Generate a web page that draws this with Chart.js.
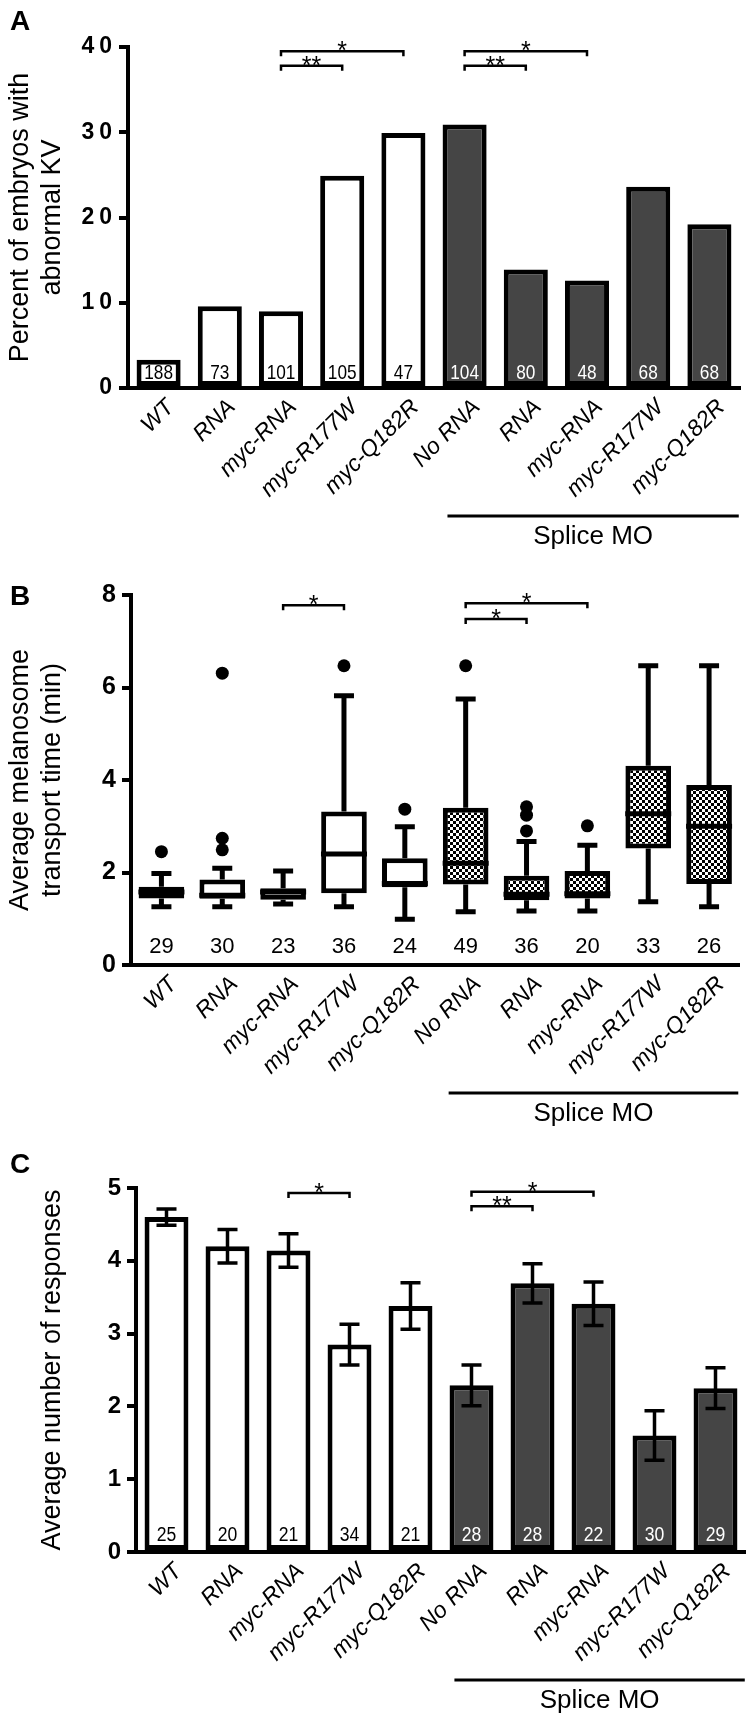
<!DOCTYPE html>
<html>
<head>
<meta charset="utf-8">
<script src="https://cdn.jsdelivr.net/npm/chart.js@4.4.1/dist/chart.umd.min.js"></script>
<style>
  html, body { margin: 0; padding: 0; background: #fff; }
  body { width: 746px; height: 1721px; position: relative; overflow: hidden; }
  canvas { position: absolute; left: 0; }
</style>
</head>
<body>
<canvas id="chartA" width="746" height="560" style="top:0"></canvas>
<canvas id="chartB" width="746" height="570" style="top:560px"></canvas>
<canvas id="chartC" width="746" height="591" style="top:1130px"></canvas>
<script>
// groups shared by all three panels
const categories = ['WT', 'RNA', 'myc-RNA', 'myc-R177W', 'myc-Q182R', 'No RNA', 'RNA', 'myc-RNA', 'myc-R177W', 'myc-Q182R'];
const spliceMO = [false, false, false, false, false, true, true, true, true, true];

// A: percent of embryos with abnormal KV
const abnormalKV = [3.3, 9.6, 9.0, 24.9, 29.9, 30.9, 13.9, 12.6, 23.6, 19.2];
const embryoCounts = [188, 73, 101, 105, 47, 104, 80, 48, 68, 68];
const sigA = [[2, 3, 37.8, '**'], [2, 4, 39.5, '*'], [5, 6, 37.8, '**'], [5, 7, 39.5, '*']];

// B: melanosome transport time box plots (min)
const transportMin = [1.26, 1.26, 1.32, 1.26, 0.99, 1.15, 1.17, 1.17, 1.37, 1.26];
const transportQ1 = [1.44, 1.43, 1.41, 1.55, 1.68, 1.74, 1.40, 1.44, 2.52, 1.75];
const transportMedian = [1.58, 1.51, 1.58, 2.40, 1.76, 2.20, 1.53, 1.54, 3.27, 3.00];
const transportQ3 = [1.69, 1.85, 1.66, 3.32, 2.31, 3.40, 1.93, 2.03, 4.31, 3.89];
const transportMax = [1.98, 2.09, 2.03, 5.82, 2.99, 5.75, 2.67, 2.59, 6.47, 6.47];
const outliers1 = [2.45, 2.49, null, 6.47, 3.37, 6.47, 2.90, 3.01, null, null];
const outliers2 = [null, 2.74, null, null, null, null, 3.24, null, null, null];
const outliers3 = [null, 6.31, null, null, null, null, 3.42, null, null, null];
const melanosomeCounts = [29, 30, 23, 36, 24, 49, 36, 20, 33, 26];
const sigB = [[2, 3, 7.78, '*'], [5, 7, 7.82, '*'], [5, 6, 7.48, '*']];

// C: average number of responses, mean and SEM
const responses = [4.60, 4.20, 4.14, 2.85, 3.38, 2.29, 3.69, 3.41, 1.60, 2.25];
const responsesSem = [0.11, 0.23, 0.23, 0.28, 0.32, 0.28, 0.27, 0.30, 0.34, 0.28];
const larvaCounts = [25, 20, 21, 34, 21, 28, 28, 22, 30, 29];
const sigC = [[2, 3, 4.93, '*'], [5, 7, 4.95, '*'], [5, 6, 4.75, '**']];

const TXT = "'Liberation Sans', Arial, Helvetica, sans-serif";
const NARROW = "'Liberation Sans Narrow', 'Arial Narrow', 'Liberation Sans', sans-serif";
const DARK = '#454545';

function checker(ctx) {
  const tile = document.createElement('canvas');
  tile.width = 6; tile.height = 6;
  const g = tile.getContext('2d');
  g.fillStyle = '#fff'; g.fillRect(0, 0, 6, 6);
  g.fillStyle = '#000'; g.fillRect(0, 0, 3, 3); g.fillRect(3, 3, 3, 3);
  return ctx.createPattern(tile, 'repeat');
}

// panel A's y labels are drawn letter-spaced ("4 0")
function spacedTicks(px) {
  return {
    id: 'spacedTicks',
    beforeDraw(chart) {
      const ys = chart.scales.y;
      if (ys._spaced) return;
      ys._spaced = true;
      const orig = ys.drawLabels.bind(ys);
      ys.drawLabels = function (area) {
        chart.ctx.save();
        chart.ctx.letterSpacing = px + 'px';
        orig(area);
        chart.ctx.restore();
      };
    }
  };
}

// letter, n counts, significance brackets, "Splice MO" line
function decor(o) {
  return {
    id: 'decor' + o.letter,
    afterDraw(chart) {
      const { ctx, chartArea } = chart;
      const x = chart.scales.x, y = chart.scales.y;
      const sp = x.getPixelForValue(1) - x.getPixelForValue(0);
      ctx.save();
      ctx.fillStyle = '#000';
      ctx.font = 'bold 28px ' + TXT;
      ctx.textAlign = 'left';
      ctx.textBaseline = 'alphabetic';
      ctx.fillText(o.letter, 10, o.letterY);

      // n per group
      ctx.textAlign = 'center';
      ctx.textBaseline = 'middle';
      ctx.font = o.countFont;
      o.counts.forEach((n, i) => {
        ctx.save();
        ctx.translate(x.getPixelForValue(i), chartArea.bottom - o.countOffset);
        ctx.scale(o.countScale, 1);
        ctx.fillStyle = (o.countWhite && spliceMO[i]) ? '#fff' : '#000';
        ctx.fillText(String(n), 0, 0);
        ctx.restore();
      });

      // significance brackets
      ctx.strokeStyle = '#000';
      ctx.lineWidth = 2.5;
      ctx.font = '25px ' + TXT;
      ctx.textBaseline = 'alphabetic';
      o.sig.forEach(([a, b, v, mark]) => {
        const x1 = x.getPixelForValue(a), x2 = x.getPixelForValue(b), yy = y.getPixelForValue(v);
        ctx.beginPath();
        ctx.moveTo(x1, yy + 5); ctx.lineTo(x1, yy); ctx.lineTo(x2, yy); ctx.lineTo(x2, yy + 5);
        ctx.stroke();
        ctx.fillStyle = '#000';
        ctx.fillText(mark, (x1 + x2) / 2, yy + 8);
      });

      // Splice MO group line
      const lx1 = x.getPixelForValue(5) - 0.28 * sp;
      const lx2 = x.getPixelForValue(9) + 0.48 * sp;
      const ly = chartArea.bottom + 128;
      ctx.lineWidth = 3;
      ctx.beginPath(); ctx.moveTo(lx1, ly); ctx.lineTo(lx2, ly); ctx.stroke();
      ctx.font = '26px ' + TXT;
      ctx.textAlign = 'center';
      ctx.fillText('Splice MO', (lx1 + lx2) / 2, chartArea.bottom + 156);
      ctx.restore();
    }
  };
}

function scalesFor(o) {
  return {
    x: {
      type: 'category',
      grid: { display: false },
      border: { display: true, color: '#000', width: 4 },
      ticks: {
        color: '#000', autoSkip: false, minRotation: 45, maxRotation: 45, padding: -2, labelOffset: 12,
        font: { family: TXT, size: 23, style: 'italic' }
      },
      afterFit: s => { s.height = o.xHeight; }
    },
    y: {
      min: 0, max: o.max,
      grid: { display: true, drawOnChartArea: false, drawTicks: true, tickLength: 9, color: '#000', lineWidth: 4 },
      border: { display: true, color: '#000', width: 4 },
      ticks: { stepSize: o.step, color: '#000', padding: o.tickPad, font: { family: NARROW, size: o.tickSize, weight: 'bold' } },
      title: {
        display: true, text: o.title, color: '#000',
        font: { family: TXT, size: 27, lineHeight: 1.2 }, padding: { top: o.titlePad, bottom: 0 }
      },
      afterFit: s => { s.width = o.yWidth; }
    }
  };
}

const baseOptions = {
  responsive: false,
  animation: false,
  devicePixelRatio: 1,
  plugins: { legend: { display: false }, tooltip: { enabled: false } }
};

// ---------- A ----------
new Chart(document.getElementById('chartA'), {
  type: 'bar',
  data: {
    labels: categories,
    datasets: [{
      data: abnormalKV,
      backgroundColor: spliceMO.map(m => m ? DARK : '#fff'),
      borderColor: '#000', borderWidth: 5, borderSkipped: false,
      barPercentage: 0.72, categoryPercentage: 1
    }]
  },
  options: Object.assign({}, baseOptions, {
    layout: { padding: { top: 47, right: 6, left: 0, bottom: 0 } },
    scales: scalesFor({ max: 40, step: 10, tickSize: 23, tickPad: 2, xHeight: 172, yWidth: 128, titlePad: 4,
      title: ['Percent of embryos with', 'abnormal KV'] })
  }),
  plugins: [spacedTicks(5), decor({ letter: 'A', letterY: 30, counts: embryoCounts, countOffset: 15,
    countFont: '21px ' + TXT, countScale: 0.82, countWhite: true, sig: sigA })]
});

// ---------- B ----------
const ctxB = document.getElementById('chartB').getContext('2d');
const checks = checker(ctxB);
const whiskers = {
  id: 'whiskers',
  afterDatasetsDraw(chart) {
    const { ctx } = chart;
    const x = chart.scales.x, y = chart.scales.y;
    ctx.save();
    ctx.strokeStyle = '#000';
    categories.forEach((c, i) => {
      const px = x.getPixelForValue(i);
      ctx.lineWidth = 5;
      ctx.beginPath();
      ctx.moveTo(px, y.getPixelForValue(transportQ3[i])); ctx.lineTo(px, y.getPixelForValue(transportMax[i]));
      ctx.moveTo(px, y.getPixelForValue(transportQ1[i])); ctx.lineTo(px, y.getPixelForValue(transportMin[i]));
      ctx.moveTo(px - 10, y.getPixelForValue(transportMax[i])); ctx.lineTo(px + 10, y.getPixelForValue(transportMax[i]));
      ctx.moveTo(px - 10, y.getPixelForValue(transportMin[i])); ctx.lineTo(px + 10, y.getPixelForValue(transportMin[i]));
      ctx.stroke();
      const half = 23;
      ctx.beginPath();
      ctx.moveTo(px - half, y.getPixelForValue(transportMedian[i])); ctx.lineTo(px + half, y.getPixelForValue(transportMedian[i]));
      ctx.stroke();
    });
    ctx.restore();
  }
};
const outlierStyle = { type: 'line', showLine: false, pointRadius: 6.5, pointBackgroundColor: '#000', pointBorderWidth: 0 };
new Chart(ctxB, {
  type: 'bar',
  data: {
    labels: categories,
    datasets: [
      {
        data: transportQ1.map((q, i) => [q, transportQ3[i]]),
        backgroundColor: spliceMO.map(m => m ? checks : '#fff'),
        borderColor: '#000', borderWidth: 5, borderSkipped: false,
        barPercentage: 0.75, categoryPercentage: 1
      },
      Object.assign({ data: outliers1 }, outlierStyle),
      Object.assign({ data: outliers2 }, outlierStyle),
      Object.assign({ data: outliers3 }, outlierStyle)
    ]
  },
  options: Object.assign({}, baseOptions, {
    layout: { padding: { top: 35, right: 6, left: 0, bottom: 0 } },
    scales: scalesFor({ max: 8, step: 2, tickSize: 25, tickPad: 6, xHeight: 165, yWidth: 131, titlePad: 4,
      title: ['Average melanosome', 'transport time (min)'] })
  }),
  plugins: [whiskers, decor({ letter: 'B', letterY: 45, counts: melanosomeCounts, countOffset: 18,
    countFont: '22px ' + TXT, countScale: 1, countWhite: false, sig: sigB })]
});

// ---------- C ----------
const errorBars = {
  id: 'errorBars',
  afterDatasetsDraw(chart) {
    const { ctx } = chart;
    const x = chart.scales.x, y = chart.scales.y;
    ctx.save();
    ctx.strokeStyle = '#000';
    ctx.lineWidth = 3.5;
    responses.forEach((m, i) => {
      const px = x.getPixelForValue(i);
      const hi = y.getPixelForValue(m + responsesSem[i]), lo = y.getPixelForValue(m - responsesSem[i]);
      ctx.beginPath();
      ctx.moveTo(px, hi); ctx.lineTo(px, lo);
      ctx.moveTo(px - 10, hi); ctx.lineTo(px + 10, hi);
      ctx.moveTo(px - 10, lo); ctx.lineTo(px + 10, lo);
      ctx.stroke();
    });
    ctx.restore();
  }
};
new Chart(document.getElementById('chartC'), {
  type: 'bar',
  data: {
    labels: categories,
    datasets: [{
      data: responses,
      backgroundColor: spliceMO.map(m => m ? DARK : '#fff'),
      borderColor: '#000', borderWidth: 5, borderSkipped: false,
      barPercentage: 0.72, categoryPercentage: 1
    }]
  },
  options: Object.assign({}, baseOptions, {
    layout: { padding: { top: 58, right: 0, left: 0, bottom: 0 } },
    scales: scalesFor({ max: 5, step: 1, tickSize: 24, tickPad: 6, xHeight: 169, yWidth: 136, titlePad: 36,
      title: 'Average number of responses' })
  }),
  plugins: [errorBars, decor({ letter: 'C', letterY: 43, counts: larvaCounts, countOffset: 17,
    countFont: '20px ' + TXT, countScale: 0.88, countWhite: true, sig: sigC })]
});
</script>
</body>
</html>
